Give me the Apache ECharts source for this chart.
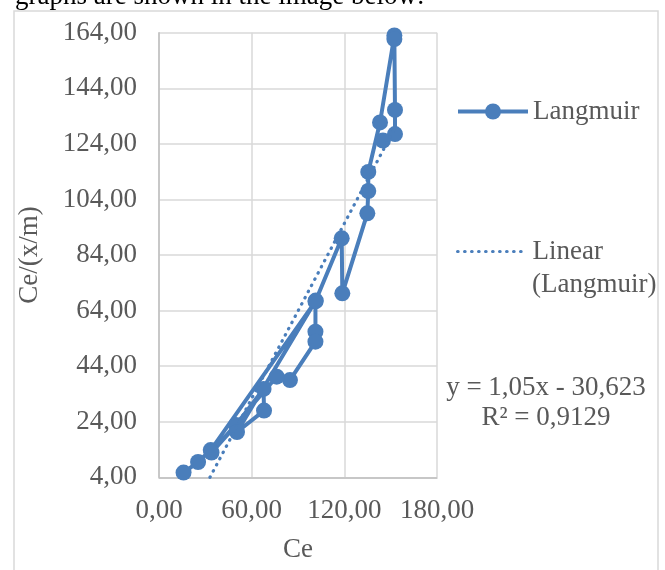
<!DOCTYPE html>
<html><head><meta charset="utf-8">
<script src="https://cdn.jsdelivr.net/npm/echarts@6/dist/echarts.min.js"></script>
<style>html,body{margin:0;padding:0;background:#fff}#c{width:665px;height:570px}</style>
</head><body><div id="c"></div>
<script>
// Data (Ce, Ce/(x/m)) in plotted (series) order
const ceValues    = [15.9, 25.3, 33.5, 101.3, 101.3, 101.3, 84.8, 76.2, 34.0, 49.9, 67.7, 68.0, 50.5, 101.5, 118.3, 118.7, 134.9, 135.5, 135.5, 143.1, 152.4, 152.4, 152.8, 152.8, 145.0];
const ratioValues = [5.7,  9.5,  13.8, 67.3,  56.4,  52.8,  39.0, 40.2, 12.9, 22.8, 35.8, 28.0, 20.3, 67.6,  90.0,  70.2,  99.0,  107.0, 113.9, 131.7, 163.0, 161.7, 136.2, 127.5, 125.2];
// Linear trendline end points (y = 1,05x - 30,623)
const trendCe    = [33.0, 152.8];
const trendRatio = [4.0, 129.8];
const xTickLabels = ['0,00', '60,00', '120,00', '180,00'];
const yTickLabels = ['4,00','24,00','44,00','64,00','84,00','104,00','124,00','144,00','164,00'];
const equationText = 'y = 1,05x - 30,623';
const r2Text = 'R² = 0,9129';
const Y_BASE = 4;   // y axis starts at 4,00

const FONT = 'Liberation Serif';
const TXT = '#595959';
const BLUE = '#4A7EBB';

const mainData = ceValues.map((x, i) => [x, ratioValues[i] - Y_BASE]);
const trendData = trendCe.map((x, i) => [x, trendRatio[i] - Y_BASE]);

const chart = echarts.init(document.getElementById('c'), null, {renderer: 'canvas'});
chart.setOption({
  animation: false,
  backgroundColor: '#fff',
  grid: {left: 159, top: 32.7, right: 228, bottom: 92.7, containLabel: false},
  xAxis: {
    type: 'value', min: 0, max: 180, interval: 60,
    name: 'Ce', nameLocation: 'middle', nameGap: 59,
    nameTextStyle: {fontFamily: FONT, fontSize: 27, color: TXT},
    axisLine: {show: true, lineStyle: {color: '#BFBFBF', width: 1.5}},
    axisTick: {show: false},
    axisLabel: {margin: 20, fontFamily: FONT, fontSize: 27, color: TXT,
      formatter: v => xTickLabels[Math.round(v / 60)]},
    splitLine: {show: true, lineStyle: {color: '#D9D9D9', width: 1.5}}
  },
  yAxis: {
    type: 'value', min: 0, max: 160, interval: 20,
    name: 'Ce/(x/m)', nameLocation: 'middle', nameGap: 116, nameRotate: 90,
    nameTextStyle: {fontFamily: FONT, fontSize: 27, color: TXT},
    axisLine: {show: true, lineStyle: {color: '#BFBFBF', width: 1.5}},
    axisTick: {show: false},
    axisLabel: {margin: 22, fontFamily: FONT, fontSize: 27, color: TXT,
      formatter: v => yTickLabels[Math.round(v / 20)]},
    splitLine: {show: true, lineStyle: {color: '#D9D9D9', width: 1.5}}
  },
  legend: [
    {data: ['Langmuir'], left: 456, top: 98, padding: 0, itemWidth: 70, itemHeight: 20,
     lineStyle: {width: 4},
     textStyle: {fontFamily: FONT, fontSize: 27, color: TXT}},
    {data: ['Linear (Langmuir)'], left: 456, top: 238, padding: 0, itemWidth: 70, itemHeight: 15,
     formatter: () => 'Linear',
     itemStyle: {opacity: 0},
     lineStyle: {width: 3.2, type: [0.5, 6.5], cap: 'round'},
     textStyle: {fontFamily: FONT, fontSize: 27, color: TXT}}
  ],
  series: [
    {name: 'Langmuir', type: 'line', data: mainData, symbol: 'circle', symbolSize: 16,
     itemStyle: {color: BLUE}, lineStyle: {color: BLUE, width: 4}, z: 2},
    {name: 'Linear (Langmuir)', type: 'line', data: trendData, symbol: 'none', showSymbol: false,
     itemStyle: {color: BLUE},
     lineStyle: {color: BLUE, width: 3.2, type: [0.5, 6.5], cap: 'round'}, z: 3}
  ],
  graphic: [
    {type: 'rect', shape: {x: 14, y: 11, width: 644, height: 580}, silent: true, z: -10,
     style: {fill: null, stroke: '#D9D9D9', lineWidth: 1.5}},
    {type: 'text', x: 15, y: 10, silent: true,
     style: {text: 'graphs are shown in the image below:', fontFamily: FONT, fontSize: 27, fill: '#000', verticalAlign: 'bottom'}},
    {type: 'text', x: 532, y: 285, silent: true,
     style: {text: '(Langmuir)', fontFamily: FONT, fontSize: 27, fill: TXT, verticalAlign: 'middle'}},
    {type: 'text', x: 546, y: 388, silent: true,
     style: {text: equationText, fontFamily: FONT, fontSize: 27, fill: TXT, align: 'center', verticalAlign: 'middle'}},
    {type: 'text', x: 546, y: 418, silent: true,
     style: {text: r2Text, fontFamily: FONT, fontSize: 27, fill: TXT, align: 'center', verticalAlign: 'middle'}}
  ]
});
</script>
</body></html>
